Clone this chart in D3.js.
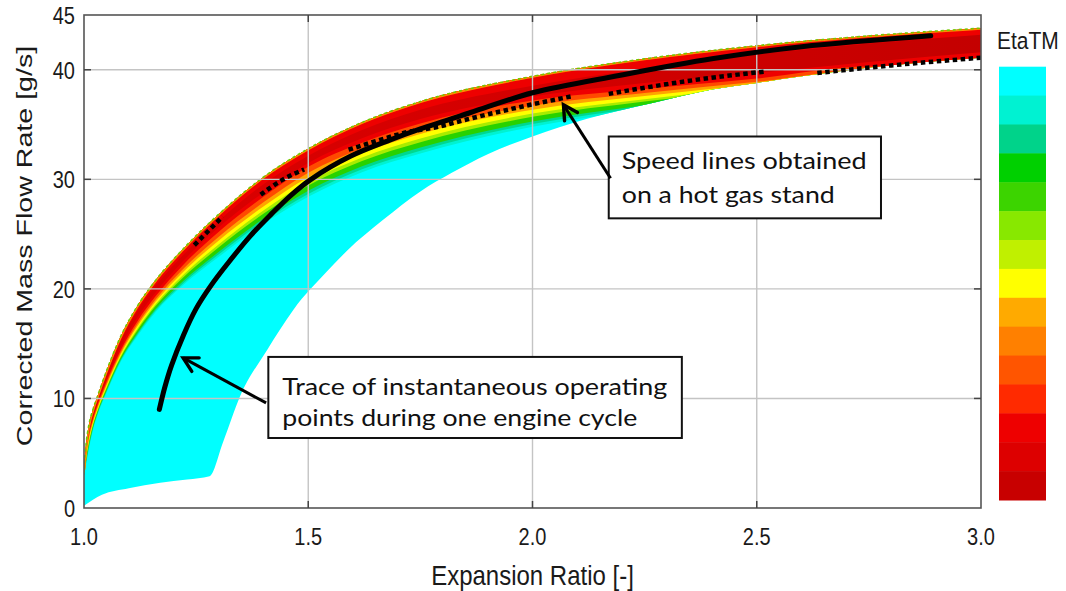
<!DOCTYPE html>
<html><head><meta charset="utf-8">
<script src="https://cdn.jsdelivr.net/npm/d3@7"></script>
<style>body{margin:0;background:#fff;} svg{display:block;}</style>
</head><body>
<svg id="chart" width="1066" height="591"></svg>
<script>
// ---------------- DATA ----------------
const xTickValues = [1.0, 1.5, 2.0, 2.5, 3.0];
const xTickLabels = ["1.0", "1.5", "2.0", "2.5", "3.0"];
const yTickValues = [0, 10, 20, 30, 40, 45];
const yTickLabels = ["0", "10", "20", "30", "40", "45"];
const gridXValues = [1.5, 2.0, 2.5];
const gridYValues = [10, 20, 30, 40];

// upper (choke) boundary of the efficiency map
const mapX     = [1.0, 1.005, 1.01, 1.02, 1.03, 1.05, 1.08, 1.12, 1.16, 1.22, 1.3, 1.4, 1.5, 1.62, 1.75, 2.0, 2.25, 2.5, 2.75, 3.0];
const mapUpper = [3.5, 6.0, 7.4, 9.0, 10.2, 12.5, 15.5, 18.5, 20.8, 23.6, 26.8, 30.2, 32.8, 35.2, 37.1, 39.4, 41.0, 42.2, 43.1, 43.8];

// lower / right boundary of the map
const lowerX = [1.0, 1.04, 1.1, 1.17, 1.23, 1.28, 1.31, 1.348, 1.408, 1.467, 1.542, 1.587, 1.667, 1.75, 1.82, 1.9, 2.0, 2.12, 2.27, 2.4, 2.5, 2.6, 2.75, 3.0];
const lowerY = [0.2, 1.2, 1.8, 2.3, 2.6, 2.9, 6.0, 10.2, 14.4, 18.1, 21.6, 23.5, 26.3, 28.9, 30.6, 32.3, 33.9, 35.5, 37.0, 38.2, 38.8, 39.4, 40.2, 41.1];

// iso-efficiency contours: depth below the upper boundary [g/s], on mapX
const depthDarkTop   = [0.08, 0.3, 0.35, 0.3, 0.25, 0.3, 0.4, 0.45, 0.5, 0.55, 0.6, 0.65, 0.65, 0.7, 0.75, 0.85, 0.9, 0.8, 0.7, 0.6];
const depthDarkBot   = [0.15, 0.6, 0.7, 0.65, 0.6, 0.75, 0.95, 1.05, 1.1, 1.1, 1.2, 1.4, 1.3, 1.45, 1.6, 1.85, 2.2, 2.5, 2.4, 2.2];
const depthRed       = [0.2, 0.8, 0.9, 0.85, 0.8, 1.0, 1.25, 1.4, 1.46, 1.46, 1.6, 1.8, 1.65, 1.85, 2.0, 2.2, 2.75, 3.0, 2.8, 5.5];
const depthOrangeRed = [0.28, 1.0, 1.14, 1.04, 0.99, 1.2, 1.46, 1.67, 1.75, 1.83, 2.06, 2.3, 2.2, 2.39, 2.55, 2.68, 3.12, 3.3, 3.12, 5.6];
const depthOrange    = [0.34, 1.15, 1.32, 1.18, 1.13, 1.35, 1.62, 1.87, 1.96, 2.1, 2.41, 2.68, 2.61, 2.8, 2.96, 3.04, 3.4, 3.53, 3.36, 5.68];
const depthYellow    = [0.4, 1.3, 1.5, 1.33, 1.27, 1.5, 1.78, 2.08, 2.18, 2.38, 2.75, 3.05, 3.03, 3.2, 3.38, 3.4, 3.68, 3.75, 3.6, 5.75];
const depthYelGreen  = [0.45, 1.45, 1.66, 1.45, 1.38, 1.62, 1.9, 2.24, 2.35, 2.6, 3.03, 3.35, 3.36, 3.52, 3.71, 3.69, 3.9, 3.93, 3.79, 5.81];
const depthGreen     = [0.52, 1.65, 1.9, 1.65, 1.54, 1.8, 2.09, 2.48, 2.61, 2.93, 3.44, 3.8, 3.85, 4.01, 4.2, 4.12, 4.23, 4.2, 4.08, 5.9];
const depthTeal      = [0.56, 1.8, 2.05, 1.78, 1.64, 1.9, 2.2, 2.62, 2.76, 3.12, 3.67, 4.05, 4.13, 4.28, 4.48, 4.36, 4.42, 4.35, 4.24, 5.95];
const depthTurquoise = [0.6, 1.9, 2.2, 1.88, 1.73, 2.0, 2.3, 2.75, 2.9, 3.3, 3.9, 4.3, 4.4, 4.55, 4.75, 4.6, 4.6, 4.5, 4.4, 6.0];

// trace of instantaneous operating points
const traceX = [1.168, 1.18, 1.195, 1.222, 1.25, 1.283, 1.32, 1.37, 1.417, 1.46, 1.506, 1.594, 1.683, 1.75, 1.862, 2.0, 2.196, 2.4, 2.6, 2.888];
const traceY = [9.0, 11.0, 13.0, 15.8, 18.2, 20.3, 22.3, 24.8, 26.8, 28.5, 30.0, 32.1, 33.6, 34.6, 36.1, 37.9, 39.5, 41.0, 42.1, 43.1];

// speed lines measured on a hot gas stand
const speed1X = [1.246, 1.309];               const speed1Y = [24.0, 26.6];
const speed2X = [1.394, 1.44, 1.491];         const speed2Y = [28.6, 29.9, 30.9];
const speed3X = [1.59, 1.66, 1.72, 1.79, 1.847, 1.95, 2.09];
const speed3Y = [32.7, 33.6, 34.3, 34.8, 35.4, 36.4, 37.6];
const speed4X = [2.17, 2.35, 2.52];           const speed4Y = [37.8, 39.0, 39.85];
const speed5X = [2.635, 2.8, 3.0];            const speed5Y = [39.7, 40.4, 41.1];

// colour bar (top to bottom)
const etaColors = ["#00ffff", "#00f2d2", "#00d38a", "#00d000", "#3cd400", "#88e800", "#c0f000", "#ffff00",
                   "#ffaa00", "#ff8000", "#ff5500", "#ff2a00", "#ee0000", "#dd0000", "#c80000"];

// annotation texts
const noteSpeedLines = ["Speed lines obtained", "on a hot gas stand"];
const noteTrace = ["Trace of instantaneous operating", "points during one engine cycle"];

// ---------------- DRAWING ----------------
const svg = d3.select("#chart");
const x = d3.scaleLinear().domain([1, 3]).range([84, 981]);
const y = d3.scaleLinear().domain([0, 45]).range([508, 15]);
const AX = "'Liberation Sans', Arial, sans-serif";
const NOTE = "Lato, 'Open Sans', sans-serif";

const defs = svg.append("defs");
defs.append("clipPath").attr("id", "plotClip").append("rect")
  .attr("x", x(1)).attr("y", y(45)).attr("width", x(3) - x(1)).attr("height", y(0) - y(45));
const idx = d3.range(mapX.length);
defs.append("clipPath").attr("id", "clipUpper").append("path")
  .attr("d", d3.area().x(i => x(mapX[i])).y0(y(0) + 10).y1(i => y(mapUpper[i])).curve(d3.curveMonotoneX)(idx));
const lidx = d3.range(lowerX.length);
defs.append("clipPath").attr("id", "clipLower").append("path")
  .attr("d", d3.area().x(i => x(lowerX[i])).y0(i => y(lowerY[i])).y1(y(45) - 10).curve(d3.curveMonotoneX)(lidx));

const coreGrad = defs.append("linearGradient").attr("id", "coreGrad")
  .attr("gradientUnits", "userSpaceOnUse").attr("x1", x(1)).attr("x2", x(3)).attr("y1", 0).attr("y2", 0);
coreGrad.append("stop").attr("offset", "0%").attr("stop-color", "#dc0000");
coreGrad.append("stop").attr("offset", "55%").attr("stop-color", "#d20000");
coreGrad.append("stop").attr("offset", "100%").attr("stop-color", "#c40000");

const plotG = svg.append("g").attr("clip-path", "url(#plotClip)");
const lowG = plotG.append("g").attr("clip-path", "url(#clipLower)");
const mapG = lowG.append("g").attr("clip-path", "url(#clipUpper)");

mapG.append("rect").attr("x", x(1)).attr("y", y(45)).attr("width", x(3) - x(1)).attr("height", y(0) - y(45))
  .attr("fill", "#00ffff");

function bandPath(depth) {
  return d3.area().x(i => x(mapX[i]))
    .y0(i => y(mapUpper[i] - depth[i]))
    .y1(i => y(mapUpper[i]) - 25)
    .curve(d3.curveMonotoneX)(idx);
}
const bands = [
  [depthTurquoise, "#00f2d2"],
  [depthTeal, "#00d890"],
  [depthGreen, "#28d200"],
  [depthYelGreen, "#a8ec00"],
  [depthYellow, "#ffff00"],
  [depthOrange, "#ffa400"],
  [depthOrangeRed, "#ff4a00"],
  [depthRed, "#ee0000"]
];
bands.forEach(([d, c]) => mapG.append("path").attr("d", bandPath(d)).attr("fill", c));
mapG.append("path")
  .attr("d", d3.area().x(i => x(mapX[i]))
    .y0(i => y(mapUpper[i] - depthDarkBot[i]))
    .y1(i => y(mapUpper[i] - depthDarkTop[i]))
    .curve(d3.curveMonotoneX)(idx))
  .attr("fill", "url(#coreGrad)");

// fringe along the upper edge
const upperLine = d3.line().x(i => x(mapX[i])).y(i => y(mapUpper[i])).curve(d3.curveMonotoneX);
mapG.append("path").attr("d", upperLine(idx)).attr("fill", "none")
  .attr("stroke", "#ff8a00").attr("stroke-width", 3);
lowG.append("path").attr("d", upperLine(idx)).attr("fill", "none")
  .attr("stroke", "#74c800").attr("stroke-width", 1.6).attr("stroke-dasharray", "3,3");

// grid lines (on top of the map)
plotG.selectAll(".gx").data(gridXValues).enter().append("line")
  .attr("x1", d => x(d)).attr("x2", d => x(d)).attr("y1", y(0)).attr("y2", y(45))
  .attr("stroke", "#c4c4c4").attr("stroke-width", 1.4);
plotG.selectAll(".gy").data(gridYValues).enter().append("line")
  .attr("y1", d => y(d)).attr("y2", d => y(d)).attr("x1", x(1)).attr("x2", x(3))
  .attr("stroke", "#c4c4c4").attr("stroke-width", 1.4);

// speed lines
const sl = (xs, ys) => d3.line().x(i => x(xs[i])).y(i => y(ys[i])).curve(d3.curveMonotoneX)(d3.range(xs.length));
[[speed1X, speed1Y], [speed2X, speed2Y], [speed3X, speed3Y], [speed4X, speed4Y], [speed5X, speed5Y]].forEach(([xs, ys]) => {
  plotG.append("path").attr("d", sl(xs, ys)).attr("fill", "none")
    .attr("stroke", "#000").attr("stroke-width", 4.5).attr("stroke-dasharray", "4.5,3.5");
});

// trace
plotG.append("path")
  .attr("d", d3.line().x(i => x(traceX[i])).y(i => y(traceY[i])).curve(d3.curveCatmullRom.alpha(0.5))(d3.range(traceX.length)))
  .attr("fill", "none").attr("stroke", "#000").attr("stroke-width", 5).attr("stroke-linecap", "round");

// frame
svg.append("rect").attr("x", x(1)).attr("y", y(45)).attr("width", x(3) - x(1)).attr("height", y(0) - y(45))
  .attr("fill", "none").attr("stroke", "#555").attr("stroke-width", 1.6);
// inward ticks
const tk = svg.append("g").attr("stroke", "#444").attr("stroke-width", 1.5);
gridYValues.forEach(v => {
  tk.append("line").attr("x1", x(1)).attr("x2", x(1) + 7).attr("y1", y(v)).attr("y2", y(v));
  tk.append("line").attr("x1", x(3)).attr("x2", x(3) - 7).attr("y1", y(v)).attr("y2", y(v));
});
gridXValues.forEach(v => {
  tk.append("line").attr("x1", x(v)).attr("x2", x(v)).attr("y1", y(0)).attr("y2", y(0) - 7);
  tk.append("line").attr("x1", x(v)).attr("x2", x(v)).attr("y1", y(45)).attr("y2", y(45) + 7);
});

// stretched text helper
function txt(str, px, py, size, anchor, sx, sy, rot, fam) {
  return svg.append("text")
    .attr("transform", `translate(${px},${py})` + (rot ? ` rotate(${rot})` : "") + ` scale(${sx},${sy})`)
    .attr("text-anchor", anchor).attr("dy", "0.36em")
    .attr("font-family", fam || AX).attr("font-size", size).attr("fill", "#1a1a1a").text(str);
}
yTickValues.forEach((v, i) => txt(yTickLabels[i], 75, y(v), 20, "end", 1, 1.22));
xTickValues.forEach((v, i) => txt(xTickLabels[i], x(v), 536, 20, "middle", 1, 1.22));
txt("Expansion Ratio [-]", (x(1) + x(3)) / 2, 575, 24, "middle", 1, 1.12);
txt("Corrected Mass Flow Rate [g/s]", 24, 246, 22, "middle", 1.3, 1, -90);
txt("EtaTM", 997, 40, 21, "start", 1, 1.18);

// colour bar
const cb = d3.scaleBand().domain(d3.range(etaColors.length)).range([66.7, 500]);
svg.selectAll(".cb").data(etaColors).enter().append("rect")
  .attr("x", 999).attr("width", 47).attr("y", (d, i) => cb(i)).attr("height", cb.bandwidth() + 0.5)
  .attr("fill", d => d);

// annotations (anchored in data coordinates)
function note(lines, bx0, bx1, by0, by1, tx, baseYs, widths, from, to) {
  const g = svg.append("g");
  g.append("rect").attr("x", x(bx0)).attr("y", y(by0)).attr("width", x(bx1) - x(bx0)).attr("height", y(by1) - y(by0))
    .attr("fill", "#fff").attr("stroke", "#111").attr("stroke-width", 2);
  lines.forEach((s, i) => g.append("text").attr("x", x(tx)).attr("y", y(baseYs[i]))
    .attr("font-family", NOTE).attr("font-size", 23).attr("fill", "#111")
    .attr("textLength", widths[i]).attr("lengthAdjust", "spacingAndGlyphs").text(s));
  const x0 = x(from[0]), y0 = y(from[1]), x1 = x(to[0]), y1 = y(to[1]);
  svg.append("line").attr("x1", x0).attr("y1", y0).attr("x2", x1).attr("y2", y1)
    .attr("stroke", "#000").attr("stroke-width", 3);
  const a = Math.atan2(y1 - y0, x1 - x0), L = 16, sp = 0.5;
  const p = [[x1 - L * Math.cos(a - sp), y1 - L * Math.sin(a - sp)], [x1, y1], [x1 - L * Math.cos(a + sp), y1 - L * Math.sin(a + sp)]];
  svg.append("path").attr("d", d3.line()(p)).attr("fill", "none").attr("stroke", "#000")
    .attr("stroke-width", 3.4).attr("stroke-linejoin", "miter").attr("stroke-linecap", "round");
}
note(noteSpeedLines, 2.17, 2.777, 33.91, 26.44, 2.199, [30.96, 27.85], [245, 213], [2.174, 30.1], [2.069, 36.8]);
note(noteTrace, 1.411, 2.333, 13.79, 6.39, 1.442, [10.32, 7.49], [385, 355], [1.406, 9.59], [1.221, 13.7]);
</script>
</body></html>
